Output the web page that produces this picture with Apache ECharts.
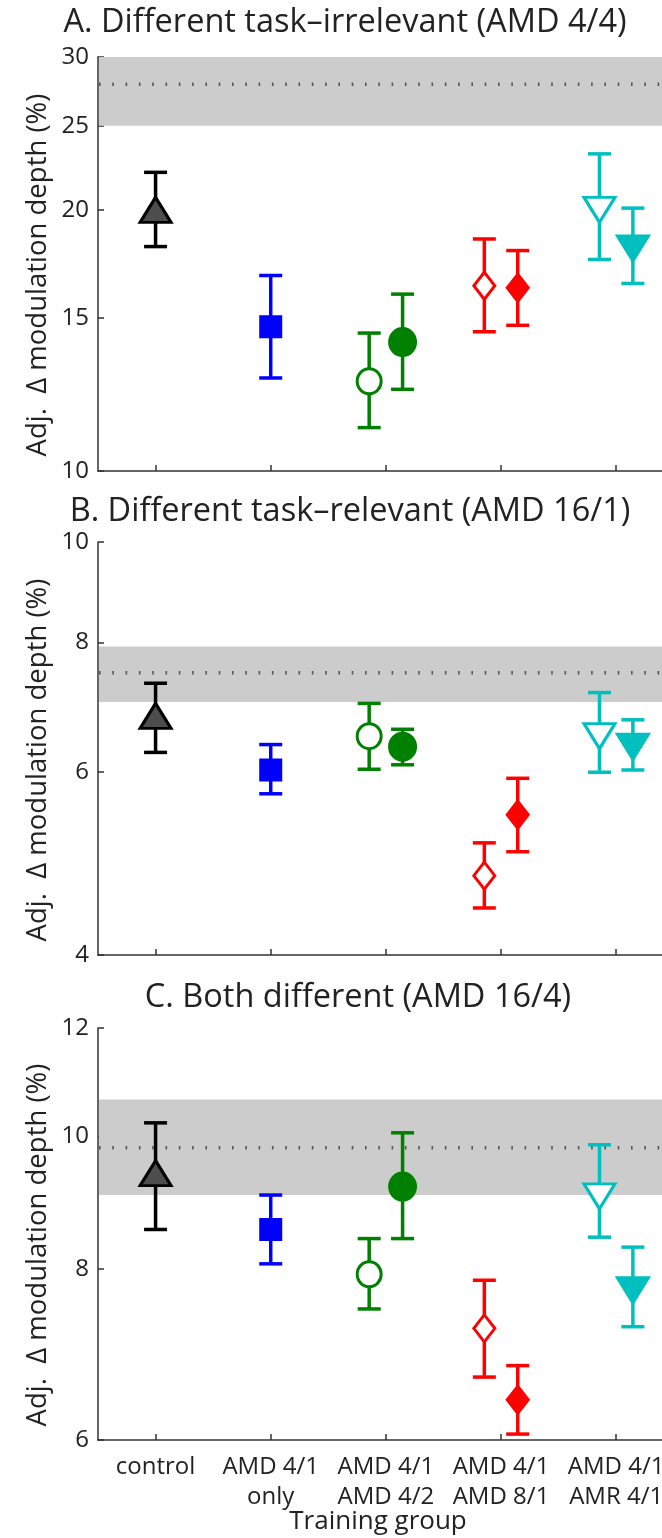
<!DOCTYPE html>
<html>
<head>
<meta charset="utf-8">
<script src="https://cdn.jsdelivr.net/npm/echarts@6/dist/echarts.min.js"></script>
<style>
html,body{margin:0;padding:0;background:#fff;}
#chart{width:662px;height:1538px;}
</style>
</head>
<body>
<div id="chart"></div>
<script>
// ---------- data ----------
const groupLabels = ['control', 'AMD 4/1\nonly', 'AMD 4/1\nAMD 4/2', 'AMD 4/1\nAMD 8/1', 'AMD 4/1\nAMR 4/1'];
// marker -> group (1-based) and side within group (-1 open / +1 filled / 0 single)
const markerGroup = [1, 2, 3, 3, 4, 4, 5, 5];
const markerSide  = [0, 0, -1, 1, -1, 1, -1, 1];

const titleA = 'A. Different task\u2013irrelevant (AMD 4/4)';
const titleB = 'B. Different task\u2013relevant (AMD 16/1)';
const titleC = 'C. Both different (AMD 16/4)';
const yTitle = 'Adj.  \u0394 modulation depth (%)';
const xTitle = 'Training group';

const meanA = [20.0, 14.66, 12.69, 14.08, 16.35, 16.26, 20.0, 18.06];
const lowA  = [18.14, 12.80, 11.22, 12.42, 14.47, 14.72, 17.53, 16.45];
const highA = [22.09, 16.80, 14.42, 15.99, 18.51, 17.95, 23.2, 20.09];
const bandA = [25, 30];
const refA  = 27.9;
const ticksA = [10, 15, 20, 25, 30];

const meanB = [6.80, 6.03, 6.50, 6.35, 4.77, 5.46, 6.50, 6.35];
const lowB  = [6.27, 5.72, 6.04, 6.10, 4.44, 5.03, 6.00, 6.03];
const highB = [7.31, 6.38, 6.99, 6.60, 5.13, 5.92, 7.16, 6.74];
const bandB = [7.01, 7.93];
const refB  = 7.48;
const ticksB = [4, 6, 8, 10];

const meanC = [9.40, 8.55, 7.93, 9.19, 7.24, 6.42, 9.04, 7.72];
const lowC  = [8.55, 8.07, 7.48, 8.42, 6.67, 6.06, 8.44, 7.26];
const highC = [10.23, 9.06, 8.42, 10.06, 7.85, 6.80, 9.86, 8.30];
const bandC = [9.06, 10.64];
const refC  = 9.81;
const ticksC = [6, 8, 10, 12];

// ---------- styles ----------
const FONT = 'Open Sans';
const TXT = '#222';
const OFFSET = 0.145;
const colors = ['#000000', '#0000FF', '#008000', '#008000', '#FF0000', '#FF0000', '#00BFBF', '#00BFBF'];
const fills  = ['#4D4D4D', '#0000FF', '#FFFFFF', '#008000', '#FFFFFF', '#FF0000', '#FFFFFF', '#00BFBF'];
const symbols = ['triangle', 'rect', 'circle', 'circle', 'diamond', 'diamond', 'triangle', 'triangle'];
const rotates = [0, 0, 0, 0, 0, 0, 180, 180];
const sizes = [[31, 25], [20, 20], [24, 25], [26, 27], [21, 27], [21, 27], [31, 25], [31, 25]];

const L = Math.log10;
const PX_PER_GROUP = 115.15;
const GRID_LEFT = 98;
const GRID_W = 662 - GRID_LEFT;
const XMIN = 0.5;
const XMAX = XMIN + GRID_W / PX_PER_GROUP;

const gridBase = {left: GRID_LEFT, width: GRID_W, containLabel: false, outerBoundsMode: 'none'};
const grids = [
  Object.assign({top: 57, height: 414}, gridBase),
  Object.assign({top: 542, height: 413}, gridBase),
  Object.assign({top: 1028, height: 412}, gridBase)
];

function xAxisFor(i, showLabels) {
  return {
    type: 'value', gridIndex: i, min: XMIN, max: XMAX,
    axisLine: {show: true, onZero: false, lineStyle: {color: '#333', width: 1.5}},
    axisTick: {show: true, inside: true, length: 6, customValues: [1, 2, 3, 4, 5], lineStyle: {color: '#333', width: 1.5}},
    splitLine: {show: false},
    axisLabel: showLabels ? {
      show: true, customValues: [1, 2, 3, 4, 5], margin: 12,
      formatter: v => groupLabels[Math.round(v) - 1],
      fontFamily: FONT, fontSize: 24, color: TXT, lineHeight: 30
    } : {show: false}
  };
}

function yAxisFor(i, ticks) {
  const tv = ticks.map(L);
  return {
    type: 'value', gridIndex: i, min: tv[0], max: tv[tv.length - 1],
    axisLine: {show: true, lineStyle: {color: '#333', width: 1.5}},
    axisTick: {show: true, inside: true, length: 6, customValues: tv, lineStyle: {color: '#333', width: 1.5}},
    splitLine: {show: false},
    axisLabel: {
      show: true, customValues: tv, margin: 9,
      formatter: v => String(Math.round(Math.pow(10, v))),
      fontFamily: FONT, fontSize: 24, color: TXT
    }
  };
}

function xPos(k) { return markerGroup[k] + markerSide[k] * OFFSET; }

function bandSeries(i, band, ref) {
  return {
    type: 'custom', xAxisIndex: i, yAxisIndex: i, z: 1, silent: true,
    data: [[L(band[0]), L(band[1]), L(ref)]],
    renderItem: function (params, api) {
      const cs = params.coordSys;
      const y0 = api.coord([XMIN, api.value(0)])[1];
      const y1 = api.coord([XMIN, api.value(1)])[1];
      const yr = api.coord([XMIN, api.value(2)])[1];
      return {
        type: 'group',
        children: [
          {type: 'rect', shape: {x: cs.x + 1, y: y1, width: cs.width, height: y0 - y1}, style: {fill: '#CCCCCC'}},
          {type: 'line', shape: {x1: cs.x + 1, y1: yr, x2: cs.x + cs.width, y2: yr},
           style: {stroke: '#555', lineWidth: 3.5, lineDash: [1.6, 11.7]}}
        ]
      };
    }
  };
}

function errSeries(i, low, high) {
  return {
    type: 'custom', xAxisIndex: i, yAxisIndex: i, z: 2, silent: true,
    data: low.map((v, k) => [xPos(k), L(v), L(high[k]), k]),
    renderItem: function (params, api) {
      const x = api.value(0);
      const pL = api.coord([x, api.value(1)]);
      const pH = api.coord([x, api.value(2)]);
      const c = colors[api.value(3)];
      const hw = 11.5;
      const st = {stroke: c, lineWidth: 3.5};
      return {
        type: 'group',
        children: [
          {type: 'line', shape: {x1: pL[0], y1: pL[1], x2: pH[0], y2: pH[1]}, style: st},
          {type: 'line', shape: {x1: pL[0] - hw, y1: pL[1], x2: pL[0] + hw, y2: pL[1]}, style: st},
          {type: 'line', shape: {x1: pH[0] - hw, y1: pH[1], x2: pH[0] + hw, y2: pH[1]}, style: st}
        ]
      };
    }
  };
}

function markerSeries(i, mean) {
  return {
    type: 'scatter', xAxisIndex: i, yAxisIndex: i, z: 3, silent: true,
    data: mean.map((v, k) => ({
      value: [xPos(k), L(v)],
      symbol: symbols[k], symbolSize: sizes[k], symbolRotate: rotates[k],
      itemStyle: {color: fills[k], borderColor: colors[k], borderWidth: 3, opacity: 1}
    }))
  };
}

const titleStyle = {font: '32.5px "' + FONT + '"', fill: TXT, textAlign: 'center', textVerticalAlign: 'middle'};
const yTitleStyle = {text: yTitle, font: '27.5px "' + FONT + '"', fill: TXT, textAlign: 'center', textVerticalAlign: 'middle'};

function yTitleAt(cy) {
  return {type: 'text', x: 38, y: cy, rotation: Math.PI / 2, style: Object.assign({}, yTitleStyle)};
}

const option = {
  animation: false,
  backgroundColor: '#fff',
  grid: grids,
  xAxis: [xAxisFor(0, false), xAxisFor(1, false), xAxisFor(2, true)],
  yAxis: [yAxisFor(0, ticksA), yAxisFor(1, ticksB), yAxisFor(2, ticksC)],
  graphic: [
    {type: 'text', x: 345, y: 23, style: Object.assign({text: titleA}, titleStyle)},
    {type: 'text', x: 350, y: 512, style: Object.assign({text: titleB}, titleStyle)},
    {type: 'text', x: 358, y: 998, style: Object.assign({text: titleC}, titleStyle)},
    yTitleAt(275), yTitleAt(760), yTitleAt(1245),
    {type: 'text', x: 378, y: 1522, style: {text: xTitle, font: '26px "' + FONT + '"', fill: TXT, textAlign: 'center', textVerticalAlign: 'middle'}}
  ],
  series: [
    bandSeries(0, bandA, refA), errSeries(0, lowA, highA), markerSeries(0, meanA),
    bandSeries(1, bandB, refB), errSeries(1, lowB, highB), markerSeries(1, meanB),
    bandSeries(2, bandC, refC), errSeries(2, lowC, highC), markerSeries(2, meanC)
  ]
};

const chart = echarts.init(document.getElementById('chart'), null, {renderer: 'canvas'});
chart.setOption(option);
</script>
</body>
</html>
